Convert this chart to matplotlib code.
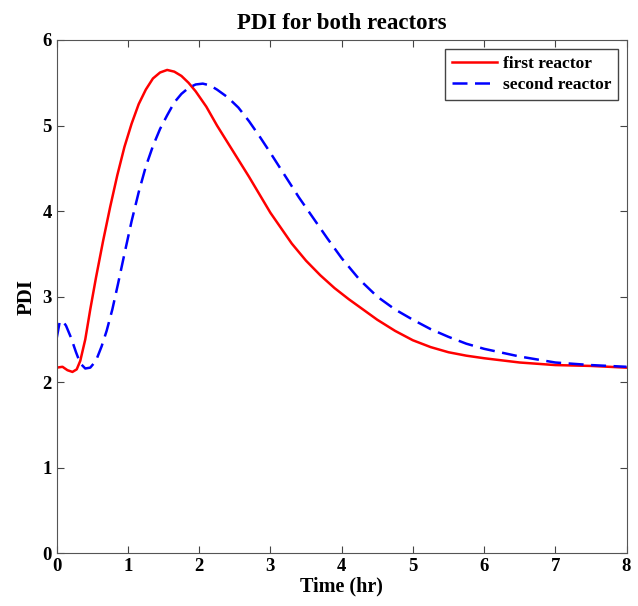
import matplotlib
matplotlib.use('Agg')
import matplotlib.pyplot as plt

# values
t_first = [0, 0.08, 0.15, 0.22, 0.28, 0.33, 0.4, 0.47, 0.55, 0.65, 0.75, 0.85, 0.95, 1.05,
           1.15, 1.25, 1.35, 1.45, 1.55, 1.65, 1.75, 1.85, 1.95, 2.1, 2.25, 2.4, 2.55, 2.7,
           2.85, 3.0, 3.15, 3.3, 3.5, 3.7, 3.9, 4.1, 4.3, 4.5, 4.75, 5.0, 5.25, 5.5, 5.75,
           6.0, 6.5, 7.0, 7.5, 8.0]
pdi_first = [2.17, 2.18, 2.14, 2.12, 2.15, 2.25, 2.50, 2.85, 3.22, 3.65, 4.05, 4.42, 4.75, 5.02,
             5.25, 5.42, 5.55, 5.62, 5.65, 5.63, 5.58, 5.50, 5.40, 5.22, 5.00, 4.80, 4.60, 4.40,
             4.19, 3.98, 3.80, 3.62, 3.42, 3.25, 3.10, 2.97, 2.85, 2.73, 2.60, 2.49, 2.41, 2.35, 2.31,
             2.28, 2.23, 2.20, 2.19, 2.17]

t_second = [0, 0.04, 0.08, 0.13, 0.2, 0.27, 0.33, 0.4, 0.47, 0.55, 0.63, 0.7, 0.78, 0.86,
            0.95, 1.05, 1.15, 1.25, 1.35, 1.45, 1.55, 1.65, 1.75, 1.85, 1.95, 2.05, 2.15, 2.25,
            2.4, 2.55, 2.7, 2.85, 3.0, 3.2, 3.4, 3.6, 3.8, 4.0, 4.25, 4.5, 4.75, 5.0, 5.25, 5.5,
            5.75, 6.0, 6.5, 7.0, 7.5, 8.0]
pdi_second = [2.52, 2.70, 2.72, 2.66, 2.52, 2.35, 2.22, 2.16, 2.17, 2.25, 2.42, 2.60, 2.85, 3.15,
              3.50, 3.88, 4.22, 4.52, 4.76, 4.96, 5.12, 5.27, 5.37, 5.44, 5.48, 5.49, 5.47, 5.42,
              5.33, 5.21, 5.05, 4.87, 4.68, 4.42, 4.16, 3.92, 3.68, 3.45, 3.20, 3.00, 2.85, 2.73, 2.62, 2.53,
              2.45, 2.39, 2.30, 2.23, 2.20, 2.18]

plt.rcParams['font.family'] = ['Liberation Serif', 'DejaVu Serif']
plt.rcParams['font.weight'] = 'bold'

fig = plt.figure(figsize=(6.38, 6.06), dpi=100)
ax = fig.add_axes([0.089, 0.087, 0.893, 0.847])

ax.plot(t_first, pdi_first, color='#ff0000', linewidth=1.8, label='first reactor')
ax.plot(t_second, pdi_second, color='#0000ff', linewidth=1.8, linestyle=(0, (6, 3)), label='second reactor')

ax.set_xlim(0, 8)
ax.set_ylim(0, 6)
ax.set_xticks(range(0, 9))
ax.set_yticks(range(0, 7))
ax.tick_params(direction='in', top=True, right=True, labelsize=13.5, length=5, color='#444444')
for lbl in ax.get_xticklabels() + ax.get_yticklabels():
    lbl.set_fontweight('bold')
for s in ax.spines.values():
    s.set_color('#555555')

ax.set_title('PDI for both reactors', fontsize=16.5, fontweight='bold', pad=8)
ax.set_xlabel('Time (hr)', fontsize=14.5, fontweight='bold', labelpad=1)
ax.set_ylabel('PDI', fontsize=15, fontweight='bold', labelpad=4)

leg = ax.legend(loc='upper right', fontsize=12.5, fancybox=False, framealpha=1,
                edgecolor='#444444', handlelength=2.6, borderaxespad=0.5,
                borderpad=0.4, handletextpad=0.3, labelspacing=0.3)
for txt in leg.get_texts():
    txt.set_fontweight('bold')

fig.savefig('out.png', dpi=100)
